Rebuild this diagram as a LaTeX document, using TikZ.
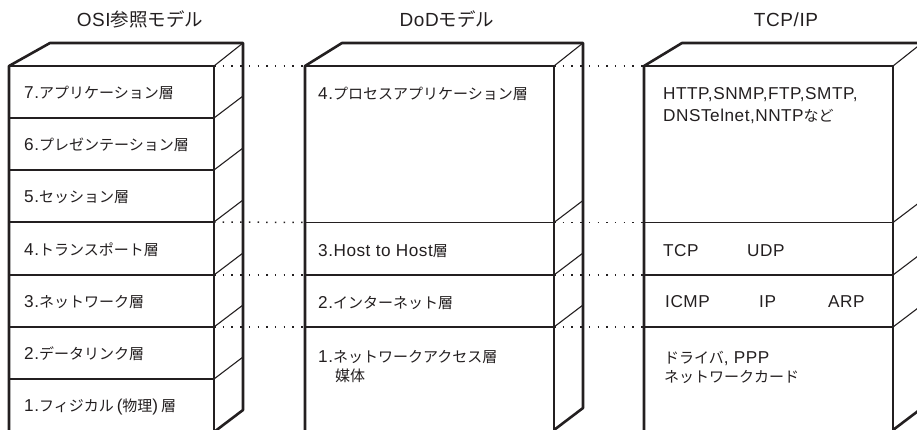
\documentclass[tikz,border=0pt]{standalone}
\usepackage{fontspec}
\setmainfont{Liberation Sans}[LetterSpace=3]
\newfontfamily\jpfont{Noto Sans CJK JP}
\newcommand\J[1]{{\jpfont\fontsize{15}{18}\selectfont #1}}
\newcommand\JT[1]{{\jpfont\fontsize{18.5}{22}\selectfont #1}}
\definecolor{ink}{HTML}{231F20}
\tikzset{
  thinline/.style={draw=ink, line width=1.1pt},
  layerline/.style={draw=ink, line width=1.4pt},
  outline/.style={draw=ink, line width=2.6pt, line join=round},
  dotline/.style={draw=ink, line width=1.5pt, dash pattern=on 1.5pt off 7.2pt},
  lbl/.style={anchor=base west, inner sep=0pt, text=ink, font=\fontsize{17.2}{20}\selectfont},
  ttl/.style={anchor=base, inner sep=0pt, text=ink, font=\fontsize{19}{22}\selectfont},
}
\begin{document}
\begin{tikzpicture}[x=1pt, y=-1pt]
\useasboundingbox (0,0) rectangle (917,430);
\clip (0,0) rectangle (917,430);
% ---------- OSI box ----------
\coordinate (oftl) at (9,66);   \coordinate (oftr) at (214,66);
\coordinate (obtl) at (50,43);  \coordinate (obtr) at (243,43);
\coordinate (obbr) at (243,410);\coordinate (ofbr) at (214,432);
\coordinate (ofbl) at (9,432);
\draw[layerline] (oftl) -- (oftr);
\draw[thinline] (oftr) -- (ofbr);
\draw[thinline] (oftr) -- (obtr);
\foreach \y/\n in {118/6,170/5,222/4,275/3,327/2,379/1}{
  \coordinate (ol\n) at (214,\y);
  \draw[layerline] (9,\y) -- (ol\n);
  \draw[thinline] (ol\n) -- ++(29,-22);
}
\draw[outline] (ofbl) -- (oftl) -- (obtl) -- (obtr) -- (obbr) -- (ofbr);
% ---------- DoD box ----------
\coordinate (dftl) at (305,66);  \coordinate (dftr) at (554,66);
\coordinate (dbtl) at (342,43);  \coordinate (dbtr) at (583,43);
\coordinate (dbbr) at (583,408); \coordinate (dfbr) at (554,430);
\coordinate (dfbl) at (305,432);
\draw[layerline] (dftl) -- (dftr);
\draw[thinline] (dftr) -- (dfbr);
\draw[thinline] (dftr) -- (dbtr);
\foreach \y/\n in {222.5/3,275/2,327/1}{
  \coordinate (dll\n) at (305,\y);
  \coordinate (dlr\n) at (554,\y);
  \draw[layerline] (dll\n) -- (dlr\n);
  \draw[thinline] (dlr\n) -- ++(29,-22);
}
\draw[outline] (dfbl) -- (dftl) -- (dbtl) -- (dbtr) -- (dbbr) -- (dfbr);
% ---------- TCP/IP box ----------
\coordinate (tftl) at (644,66);  \coordinate (tftr) at (893,66);
\coordinate (tbtl) at (682,43);  \coordinate (tbtr) at (922,43);
\coordinate (tbbr) at (922,408); \coordinate (tfbr) at (893,430);
\coordinate (tfbl) at (644,432);
\draw[layerline] (tftl) -- (tftr);
\draw[thinline] (tftr) -- (tfbr);
\draw[thinline] (tftr) -- (tbtr);
\foreach \y/\n in {222.5/3,275/2,327/1}{
  \coordinate (tll\n) at (644,\y);
  \coordinate (tlr\n) at (893,\y);
  \draw[layerline] (tll\n) -- (tlr\n);
  \draw[thinline] (tlr\n) -- ++(29,-22);
}
\draw[outline] (tfbl) -- (tftl) -- (tbtl) -- (tbtr) -- (tbbr) -- (tfbr);
% ---------- dotted correspondences ----------
\draw[dotline] (oftr) -- (dftl);
\draw[dotline] (ol4) -- (dll3);
\draw[dotline] (ol3) -- (dll2);
\draw[dotline] (ol2) -- (dll1);
\draw[dotline] (dftr) -- (tftl);
\draw[dotline] (dlr3) -- (tll3);
\draw[dotline] (dlr2) -- (tll2);
\draw[dotline] (dlr1) -- (tll1);
% ---------- titles ----------
\node[ttl] (tosi) at (140,26.5) {OSI\JT{参照モデル}};
\node[ttl] (tdod) at (447,26.5) {DoD\JT{モデル}};
\node[ttl] (ttcp) at (786,26.5) {TCP/IP};
% ---------- OSI labels ----------
\node[lbl] (o7) at (24,98.5) {7.\J{アプリケーション層}};
\node[lbl] (o6) at (24,150.5) {6.\J{プレゼンテーション層}};
\node[lbl] (o5) at (24,202.5) {5.\J{セッション層}};
\node[lbl] (o4) at (24,255) {4.\J{トランスポート層}};
\node[lbl] (o3) at (24,307) {3.\J{ネットワーク層}};
\node[lbl] (o2) at (24,359.5) {2.\J{データリンク層}};
\node[lbl] (o1) at (24,411) {1.\J{フィジカル}\hspace{3pt}(\J{物理})\hspace{3pt}\J{層}};
% ---------- DoD labels ----------
\node[lbl] (d4) at (318,99.5) {4.\J{プロセスアプリケーション層}};
\node[lbl] (d3) at (318,256.5) {3.Host to Host\J{層}};
\node[lbl] (d2) at (318,308) {2.\J{インターネット層}};
\node[lbl] (d1) at (318,362) {1.\J{ネットワークアクセス層}};
\node[lbl] (d1b) at (335,381.5) {\J{媒体}};
% ---------- TCP/IP labels ----------
\node[lbl] (t4a) at (663,99.3) {HTTP,SNMP,FTP,SMTP,};
\node[lbl] (t4b) at (663,121.7) {DNSTelnet,NNTP\J{など}};
\node[lbl] (ttcpl) at (663,256) {TCP};
\node[lbl] (tudp) at (747,256) {UDP};
\node[lbl] (ticmp) at (665,307) {ICMP};
\node[lbl] (tip) at (759,307) {IP};
\node[lbl] (tarp) at (828,307) {ARP};
\node[lbl] (t1a) at (664,363) {\J{ドライバ}, PPP};
\node[lbl] (t1b) at (664,382) {\J{ネットワークカード}};
\end{tikzpicture}
\end{document}
